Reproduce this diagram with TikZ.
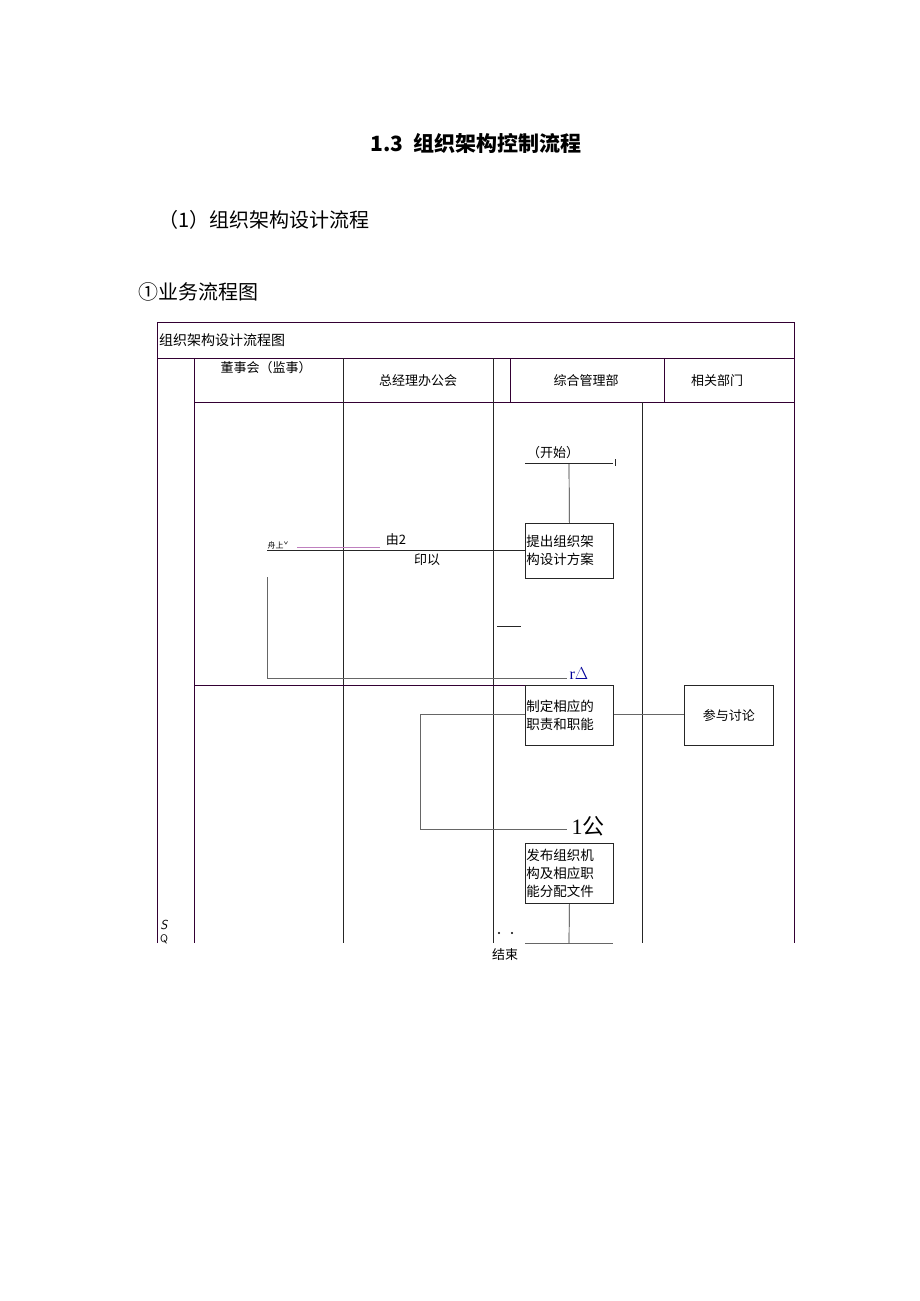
\documentclass[tikz,border=0pt]{standalone}
\usepackage{fontspec}
\setmainfont{Liberation Serif}
\newfontfamily\cjk{Noto Sans CJK SC}
\newfontfamily\sfcjk{Noto Sans CJK SC}
\begin{document}
\begin{tikzpicture}[x=1pt,y=-1pt,
  ln/.style={draw=black!85,line width=0.7pt},
  frm/.style={draw=black!60!violet,line width=0.7pt},
  box/.style={ln,fill=white,minimum width=88pt,inner sep=1pt,font=\cjk\fontsize{13.5}{18}\selectfont,align=left,text width=86pt,anchor=north west},
  hd/.style={font=\cjk\fontsize{13}{15}\selectfont},
  lab/.style={font=\cjk\fontsize{13}{15}\selectfont,inner sep=0pt}]
\useasboundingbox (0,0) rectangle (920,1301);
% headings
\node[font=\sfcjk\bfseries\fontsize{21}{24}\selectfont] (h1) at (476,143) {1.3\ \ 组织架构控制流程};
\node[font=\sfcjk\fontsize{20}{24}\selectfont,anchor=west] (h2) at (155,220) {（1）组织架构设计流程};
\node[font=\sfcjk\fontsize{20}{24}\selectfont,anchor=west] (h3) at (135,292) {①业务流程图};
% frame
\draw[frm] (157,943) -- (157,322) -- (794,322) -- (794,943);
\draw[frm] (157,358) -- (794,358);
\draw[frm] (194,402) -- (794,402);
\draw[frm] (194,358) -- (194,943);
\draw[ln] (343,358) -- (343,943);
\draw[ln] (493,358) -- (493,943);
\draw[frm] (510,358) -- (510,402);
\draw[frm] (664,358) -- (664,402);
\draw[ln] (642,402) -- (642,943);
\draw[frm] (194,685) -- (525,685);
\node[lab,anchor=west,font=\cjk\fontsize{14}{16}\selectfont] (title) at (159,340) {组织架构设计流程图};
\node[hd] (c1) at (266,368) {董事会（监事）};
\node[hd] (c2) at (418,381) {总经理办公会};
\node[hd] (c3) at (586,381) {综合管理部};
\node[hd] (c4) at (717,381) {相关部门};
% start
\node[lab] (start) at (553,453) {（开始）};
\coordinate (s1) at (525,463); \coordinate (s2) at (613,463);
\draw[ln] (s1) -- (s2);
\draw[ln] (615,459) -- (615,466);
\node[box,minimum height=55pt] (b1) at (525,523) {提出组织架\\构设计方案};
\draw[ln] (569,463) -- (b1.north);
\coordinate (p1) at (267,550);
\draw[ln] (p1) -- (b1.west |- p1);
\draw[violet!50,line width=0.5pt] (297,547) -- (380,547);
\node[lab,font=\cjk\fontsize{8}{9}\selectfont] (t1) at (278,545) {舟上ˇ};
\node[lab] (t2) at (396,540) {由2};
\node[lab] (t3) at (427,560) {印以};
\coordinate (p2) at (267,577); \coordinate (p3) at (267,678); \coordinate (p4) at (567,678);
\draw[draw=black!60,line width=1pt] (p2) -- (p3) -- (p4);
\node[lab,text=blue!60!black,font=\fontsize{16}{18}\selectfont] (t4) at (579,674) {r$\Delta$};
\draw[ln] (497,626) -- (521,626);
% second
\node[box,minimum height=60pt] (b2) at (525,685) {制定相应的\\职责和职能};
\node[ln,minimum width=89pt,minimum height=60pt,anchor=north west,hd] (b3) at (684,685) {参与讨论};
\draw[ln,draw=black!60] (b2.east |- 0,714) -- (b3.west |- 0,714);
\coordinate (q1) at (420,714); \coordinate (q2) at (420,829); \coordinate (q3) at (567,829);
\draw[draw=black!60,line width=1pt] (b2.west |- q1) -- (q1) -- (q2) -- (q3);
\node[lab,font=\cjk\fontsize{22}{24}\selectfont] (t5) at (588,826) {\fontspec{Liberation Serif}1\cjk 公};
\node[box,minimum height=60pt] (b4) at (525,843) {发布组织机\\构及相应职\\能分配文件};
\coordinate (e1) at (525,943); \coordinate (e2) at (613,943);
\draw[ln,draw=black!60] (e1) -- (e2);
\draw[ln] (b4.south) -- (569,943);
\fill (499,933) circle (1.2pt) (512,933) circle (1.2pt);
\node[lab] (end) at (505,955) {结束};
\node[lab,font=\sffamily\itshape\fontsize{13}{13}\selectfont] (sq) at (164,925) {S};
\node[lab,font=\sffamily\fontsize{11}{11}\selectfont] (sq2) at (164,939) {Q};
\end{tikzpicture}
\end{document}
